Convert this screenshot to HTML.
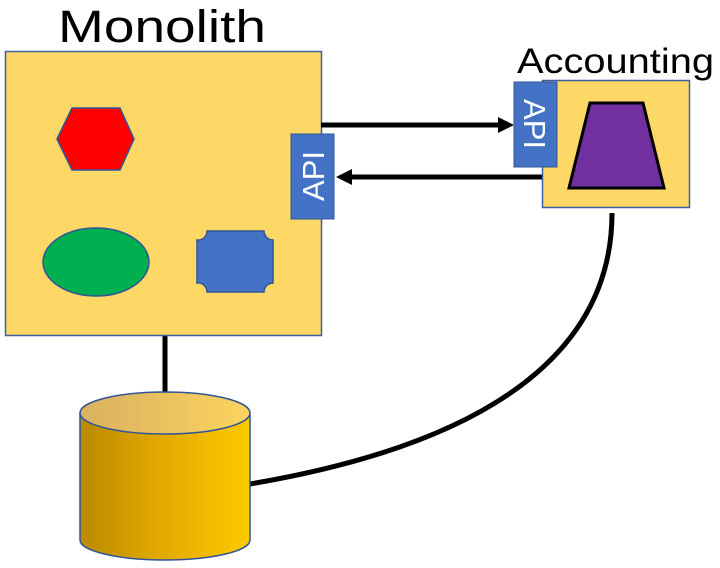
<!DOCTYPE html>
<html><head><meta charset="utf-8"><style>
html,body{margin:0;padding:0;background:#fff;width:720px;height:568px;overflow:hidden}
svg{display:block}
text{font-family:"Liberation Sans",sans-serif}
</style></head><body>
<svg width="720" height="568" viewBox="0 0 720 568" xmlns="http://www.w3.org/2000/svg">
<defs>
<linearGradient id="cyl" x1="0" x2="1" y1="0" y2="0">
<stop offset="0" stop-color="#b98a00"/><stop offset="0.45" stop-color="#e2a800"/><stop offset="1" stop-color="#fccb00"/>
</linearGradient>
<linearGradient id="cyltop" x1="0" x2="1" y1="0" y2="0">
<stop offset="0" stop-color="#d9b060"/><stop offset="1" stop-color="#fbd45e"/>
</linearGradient>
</defs>
<text x="58" y="42" font-size="45" textLength="208" lengthAdjust="spacingAndGlyphs" fill="#000">Monolith</text>
<text x="517" y="73" font-size="35" textLength="197" lengthAdjust="spacingAndGlyphs" fill="#000">Accounting</text>

<line x1="165" y1="335" x2="165" y2="395" stroke="#000" stroke-width="5"/>
<path d="M612,213 C612,340 510,440 250,484" fill="none" stroke="#000" stroke-width="5"/>

<rect x="5.5" y="51.5" width="316" height="284" fill="#fdd866" stroke="#3a5fa8" stroke-width="1.5"/>
<polygon points="57,139 72,108 120,108 134,139 120,170 72,170" fill="#ff0000" stroke="#2f5597" stroke-width="1.5"/>
<ellipse cx="96" cy="262" rx="53" ry="34" fill="#00b050" stroke="#2f5597" stroke-width="1.5"/>
<path d="M207,231 L264,231 A9,9 0 0 0 273,240 L273,283 A9,9 0 0 0 264,292 L207,292 A9,9 0 0 0 197,283 L197,240 A9,9 0 0 0 207,231 Z" fill="#4472c4" stroke="#2f5597" stroke-width="1.5"/>

<line x1="321" y1="125" x2="500" y2="125" stroke="#000" stroke-width="5"/>
<polygon points="514,125 498,117 498,133" fill="#000"/>
<line x1="543" y1="177" x2="350" y2="177" stroke="#000" stroke-width="5"/>
<polygon points="336,177 352,169 352,185" fill="#000"/>

<rect x="291" y="134" width="43" height="85" fill="#4472c4" stroke="#2f5597" stroke-width="1"/>
<text transform="translate(324,176) rotate(-90)" text-anchor="middle" font-size="31" fill="#fff">API</text>

<rect x="542.5" y="80.5" width="147" height="127" fill="#fdd866" stroke="#3a5fa8" stroke-width="1.5"/>
<polygon points="590,103 643,103 664,188 569,188" fill="#7030a0" stroke="#000" stroke-width="3"/>
<rect x="514" y="82" width="43" height="85" fill="#4472c4" stroke="#2f5597" stroke-width="1"/>
<text transform="translate(524,124) rotate(90)" text-anchor="middle" font-size="31" fill="#fff">API</text>

<path d="M80,413 L80,540 A85,20 0 0 0 250,540 L250,413 Z" fill="url(#cyl)" stroke="#2f5597" stroke-width="1.5"/>
<ellipse cx="165" cy="413" rx="85" ry="21" fill="url(#cyltop)" stroke="#2f5597" stroke-width="1.5"/>
</svg>
</body></html>
